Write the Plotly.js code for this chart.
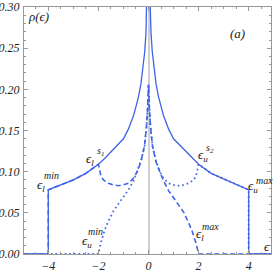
<!DOCTYPE html>
<html><head><meta charset="utf-8">
<script src="https://cdn.plot.ly/plotly-3.0.1.min.js"></script>
<style>html,body{margin:0;padding:0;background:#fff}#c{width:273px;height:272px}</style>
</head><body><div id="c"></div>
<script>
// total DOS (solid)
const epsTotal = [-5, -4, -4, -3.5, -3, -2.5, -2, -1.75, -1.5, -1.25, -1.0, -0.8, -0.7, -0.6, -0.5, -0.4, -0.3, -0.25, -0.2, -0.15, -0.1, -0.07, -0.05, -0.02, 0,
                  0.02, 0.05, 0.07, 0.1, 0.15, 0.2, 0.25, 0.3, 0.4, 0.5, 0.6, 0.7, 0.8, 1.0, 1.25, 1.5, 1.75, 2, 2.5, 3, 3.5, 4, 4, 5];
const rhoTotal = [0, 0, 0.078, 0.084, 0.090, 0.098, 0.109, 0.116, 0.124, 0.132, 0.140, 0.152, 0.160, 0.168, 0.179, 0.191, 0.207, 0.218, 0.230, 0.246, 0.269, 0.289, 0.305, 0.35, 0.42,
                  0.35, 0.305, 0.289, 0.269, 0.246, 0.230, 0.218, 0.207, 0.191, 0.179, 0.168, 0.160, 0.152, 0.140, 0.132, 0.124, 0.116, 0.109, 0.098, 0.091, 0.084, 0.078, 0, 0];
// lower band (dashed)
const epsLower = [-5, -4, -4, -3.5, -3, -2.5, -2, -1.9, -1.8, -1.6, -1.4, -1.2, -1.0, -0.8, -0.6, -0.45, -0.3, -0.16, -0.08, -0.03, 0,
                  0.03, 0.08, 0.16, 0.3, 0.45, 0.6, 0.8, 1.0, 1.2, 1.4, 1.6, 1.75, 1.9, 2, 5];
const rhoLower = [0, 0, 0.078, 0.084, 0.090, 0.098, 0.109, 0.095, 0.090, 0.086, 0.084, 0.083, 0.084, 0.086, 0.092, 0.100, 0.113, 0.131, 0.155, 0.180, 0.206,
                  0.180, 0.155, 0.131, 0.112, 0.100, 0.089, 0.077, 0.068, 0.060, 0.051, 0.038, 0.027, 0.013, 0, 0];
// upper band (dotted)
const epsUpper = [-5, -2, -1.9, -1.75, -1.6, -1.4, -1.2, -1.0, -0.8, -0.6, -0.45, -0.3, -0.16, -0.08, -0.03, 0,
                  0.03, 0.08, 0.16, 0.3, 0.45, 0.6, 0.8, 1.0, 1.2, 1.4, 1.6, 1.8, 1.9, 2, 2.5, 3, 3.5, 4, 4, 5];
const rhoUpper = [0, 0, 0.014, 0.029, 0.040, 0.052, 0.061, 0.069, 0.078, 0.089, 0.100, 0.113, 0.131, 0.155, 0.180, 0.206,
                  0.180, 0.155, 0.131, 0.113, 0.100, 0.092, 0.086, 0.084, 0.083, 0.084, 0.086, 0.090, 0.095, 0.109, 0.098, 0.091, 0.084, 0.078, 0, 0];
const xTickVals = [-4, -2, 0, 2, 4];
const yTickVals = [0, 0.05, 0.10, 0.15, 0.20, 0.25, 0.30];

const blue = '#4163e6';
const px2x = p => (p - 148.5) / 25.05;
const py2y = p => (254 - p) / 823;
const serif = 'Liberation Serif';
function lab(text, px, py, size, anchor) {
  return {text: text, x: px2x(px), y: py2y(py), xref: 'x', yref: 'y', showarrow: false,
          xanchor: anchor || 'center', yanchor: 'middle',
          font: {family: serif, size: size, color: '#222', style: 'italic'}};
}
const ann = [
  lab('ρ(ϵ)', 26, 16, 13, 'left'),
  lab('(a)', 237, 33, 13),
  lab('ϵ<sub>l</sub>', 35, 185, 13, 'left'), lab('min', 51, 175, 10),
  lab('ϵ<sub>l</sub>', 84, 159, 13, 'left'), lab('s<sub>1</sub>', 100, 151, 10),
  lab('ϵ<sub>u</sub>', 80, 241, 13, 'left'), lab('min', 95, 231, 10),
  lab('ϵ<sub>u</sub>', 196, 155, 13, 'left'), lab('s<sub>2</sub>', 210, 148, 10),
  lab('ϵ<sub>u</sub>', 246, 186, 13, 'left'), lab('max', 264, 180, 10),
  lab('ϵ<sub>l</sub>', 194, 234, 13, 'left'), lab('max', 210, 226, 10),
  lab('ϵ', 267, 246, 13)
];

const traces = [
  {x: epsTotal, y: rhoTotal, mode: 'lines', line: {color: blue, width: 1.3}},
  {x: epsLower, y: rhoLower, mode: 'lines', line: {color: blue, width: 1.6, dash: '5px,3px'}},
  {x: epsUpper, y: rhoUpper, mode: 'lines', line: {color: blue, width: 1.8, dash: '1.6px,3px'}}
];
const axBase = {
  showgrid: false, showline: true, linecolor: '#999', linewidth: 1, mirror: 'allticks',
  ticks: 'inside', ticklen: 4, tickcolor: '#999', tickwidth: 1,
  tickfont: {family: serif, size: 12, color: '#222', style: 'italic'}
};
const layout = {
  width: 273, height: 272, margin: {l: 24, r: 2, t: 7, b: 18},
  paper_bgcolor: '#fff', plot_bgcolor: '#fff', showlegend: false,
  xaxis: Object.assign({}, axBase, {range: [px2x(24), px2x(271)], tickvals: xTickVals,
    zeroline: true, zerolinecolor: '#cfcfcf', zerolinewidth: 2,
    minor: {ticks: 'inside', ticklen: 2, dtick: 0.5, tickcolor: '#999'}, ticklabelstandoff: 1}),
  yaxis: Object.assign({}, axBase, {range: [0, 247 / 823], tickvals: yTickVals, tickformat: '.2f',
    zeroline: false, minor: {ticks: 'inside', ticklen: 2, dtick: 0.01, tickcolor: '#999'}, ticklabelstandoff: 1}),
  annotations: ann
};
Plotly.newPlot('c', traces, layout, {staticPlot: true, displayModeBar: false});
</script></body></html>
